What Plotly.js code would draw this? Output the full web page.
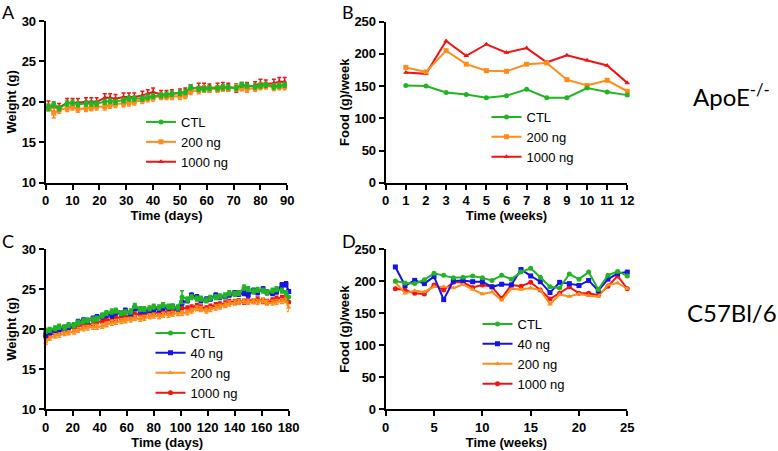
<!DOCTYPE html>
<html>
<head>
<meta charset="utf-8">
<script src="https://cdn.plot.ly/plotly-3.0.1.min.js"></script>
<style>html,body{margin:0;padding:0;background:#fff;}#chart{width:778px;height:451px;}</style>
</head>
<body>
<div id="chart"></div>
<script>
// ---------- Panel A: ApoE-/- body weight (g) vs time (days) ----------
const daysA = [1,3,5,8,10,12,15,17,19,22,24,26,29,31,33,36,38,40,43,45,47,50,52,54,57,59,61,64,66,68,71,73,75,78,80,82,85,87,89];
const wA_ctl  = [19.3,19.7,19.2,19.8,19.9,19.7,19.8,19.8,19.8,20.0,20.1,20.0,20.2,20.4,20.4,20.4,20.6,20.7,20.8,20.9,21.0,21.1,21.2,21.8,21.6,21.6,21.7,21.7,21.8,21.8,21.7,22.1,22.0,21.9,22.0,22.1,21.9,22.0,22.1];
const wA_200  = [19.3,18.6,19.0,19.2,19.4,19.1,19.2,19.3,19.4,19.4,19.6,19.7,19.8,19.9,20.0,20.2,20.4,20.5,20.7,20.7,20.7,20.7,20.8,21.3,21.4,21.6,21.6,21.6,21.7,21.7,21.7,21.8,21.6,21.7,21.9,22.0,21.8,21.9,21.9];
const wA_1000 = [19.6,19.3,19.3,19.9,19.9,19.9,20.0,20.0,20.0,20.5,20.5,20.4,20.6,20.6,20.6,20.8,21.0,21.2,20.9,20.9,21.0,21.1,21.2,21.6,21.8,21.8,21.7,21.8,21.9,21.8,21.7,21.9,21.9,22.0,22.3,22.2,22.3,22.5,22.5];
const eA_ctl  = [0.4,0.3,0.3,0.3,0.3,0.3,0.3,0.3,0.3,0.3,0.3,0.3,0.3,0.3,0.3,0.3,0.3,0.3,0.3,0.3,0.3,0.3,0.3,0.3,0.3,0.3,0.3,0.3,0.3,0.3,0.3,0.3,0.3,0.3,0.3,0.3,0.3,0.3,0.3];
const eA_200  = [0.4,0.6,0.4,0.4,0.4,0.4,0.4,0.4,0.4,0.4,0.4,0.4,0.4,0.4,0.4,0.4,0.4,0.4,0.4,0.4,0.4,0.4,0.4,0.4,0.4,0.4,0.4,0.4,0.4,0.4,0.4,0.4,0.4,0.4,0.4,0.4,0.4,0.4,0.4];
const eA_1000 = [0.5,0.5,0.5,0.5,0.5,0.5,0.5,0.5,0.5,0.5,0.5,0.5,0.5,0.5,0.5,0.5,0.5,0.5,0.5,0.5,0.5,0.5,0.5,0.5,0.5,0.5,0.5,0.5,0.5,0.5,0.5,0.5,0.5,0.5,0.5,0.5,0.5,0.5,0.5];

// ---------- Panel B: ApoE-/- food (g)/week ----------
const weeksB = [1,2,3,4,5,6,7,8,9,10,11,12];
const fB_ctl  = [151,150,140,137,132,135,145,132,132,147,141,136];
const fB_200  = [179,172,205,184,174,173,184,186,160,151,159,142];
const fB_1000 = [171,169,220,197,215,202,209,187,198,190,182,155];

// ---------- Panel C: C57Bl/6 body weight (g) vs time (days) ----------
const daysC = [0,3,7,10,14,17,21,24,28,31,35,38,42,45,49,52,56,59,63,66,70,73,77,80,84,87,91,94,98,101,105,108,112,115,119,122,126,129,133,136,140,143,147,150,154,157,161,164,168,171,175,178,180];
const wC_ctl  = [19.8,19.9,20.1,20.3,20.2,20.5,20.5,20.8,21.0,21.1,21.2,21.3,21.7,22.0,22.2,22.3,22.0,22.1,22.2,22.9,22.5,22.5,22.6,22.8,22.7,23.0,22.8,22.8,22.7,24.0,23.7,24.0,23.8,23.8,23.6,23.9,24.0,24.1,24.2,24.5,24.4,24.5,25.2,25.0,24.7,24.9,24.8,24.6,24.8,25.0,24.8,24.5,24.0];
const wC_40   = [19.3,19.6,19.9,20.0,20.2,20.3,20.5,20.9,21.1,21.0,21.3,21.5,21.6,21.8,21.7,22.1,22.0,22.3,22.0,22.6,22.3,22.3,22.4,22.5,22.5,22.7,22.7,22.8,22.6,23.3,23.6,24.2,24.0,23.6,23.7,23.8,24.2,24.0,24.1,24.3,24.5,24.4,24.5,24.3,24.8,24.6,25.0,24.6,24.5,24.7,25.5,25.6,24.7];
const wC_200  = [18.4,18.9,19.2,19.3,19.5,19.6,19.7,19.9,20.1,20.2,20.3,20.3,20.4,20.6,20.8,20.9,21.0,21.1,21.2,21.4,21.3,21.4,21.6,21.7,21.6,21.8,21.8,21.9,22.0,22.0,22.1,22.3,22.6,22.5,22.3,22.5,22.7,22.8,23.0,23.2,23.3,23.4,23.5,23.4,23.5,23.4,23.6,23.3,23.3,23.4,23.5,23.6,22.7];
const wC_1000 = [19.0,19.3,19.6,19.8,19.9,20.1,20.2,20.4,20.5,20.6,20.6,20.9,21.0,21.2,21.1,21.4,21.5,21.6,21.6,21.8,21.9,21.9,22.0,22.1,22.0,22.2,22.1,22.3,22.4,22.6,22.6,22.7,22.9,22.7,22.6,22.8,23.0,23.1,23.2,23.4,23.4,23.5,23.4,23.6,23.5,23.7,23.5,23.4,23.6,23.8,23.9,23.7,23.4];
const eC_ctl  = [0.3,0.3,0.3,0.3,0.3,0.3,0.3,0.3,0.3,0.3,0.3,0.3,0.3,0.3,0.3,0.3,0.3,0.3,0.3,0.3,0.3,0.3,0.3,0.3,0.3,0.3,0.3,0.3,0.3,0.8,0.3,0.3,0.3,0.3,0.3,0.3,0.3,0.3,0.3,0.3,0.3,0.3,0.3,0.3,0.3,0.3,0.3,0.3,0.3,0.3,0.3,0.3,0.4];
const eC_40   = [0.3,0.3,0.3,0.3,0.3,0.3,0.3,0.3,0.3,0.3,0.3,0.3,0.3,0.3,0.3,0.3,0.3,0.3,0.3,0.3,0.3,0.3,0.3,0.3,0.3,0.3,0.3,0.3,0.3,0.3,0.3,0.3,0.3,0.3,0.3,0.3,0.3,0.3,0.3,0.3,0.3,0.3,0.3,0.3,0.3,0.3,0.3,0.3,0.3,0.3,0.3,0.3,0.4];
const eC_200  = [0.3,0.3,0.3,0.3,0.3,0.3,0.3,0.3,0.3,0.3,0.3,0.3,0.3,0.3,0.3,0.3,0.3,0.3,0.3,0.3,0.3,0.3,0.3,0.3,0.3,0.3,0.3,0.3,0.3,0.3,0.3,0.3,0.3,0.3,0.3,0.3,0.3,0.3,0.3,0.3,0.3,0.3,0.3,0.3,0.3,0.3,0.3,0.3,0.3,0.3,0.3,0.3,0.5];
const eC_1000 = [0.3,0.3,0.3,0.3,0.3,0.3,0.3,0.3,0.3,0.3,0.3,0.3,0.3,0.3,0.3,0.3,0.3,0.3,0.3,0.3,0.3,0.3,0.3,0.3,0.3,0.3,0.3,0.3,0.3,0.3,0.3,0.3,0.3,0.3,0.3,0.3,0.3,0.3,0.3,0.3,0.3,0.3,0.3,0.3,0.3,0.3,0.3,0.3,0.3,0.3,0.3,0.3,0.4];

// ---------- Panel D: C57Bl/6 food (g)/week ----------
const weeksD = [1,2,3,4,5,6,7,8,9,10,11,12,13,14,15,16,17,18,19,20,21,22,23,24,25];
const fD_ctl  = [200,197,196,202,212,209,205,206,208,205,201,209,203,214,220,206,191,189,211,203,214,187,209,215,208];
const fD_40   = [222,193,201,196,207,171,200,201,199,199,191,195,194,218,208,199,182,198,196,193,201,185,203,212,214];
const fD_200  = [198,181,185,183,191,191,189,195,187,180,183,170,188,187,189,186,164,179,176,180,177,176,194,197,188];
const fD_1000 = [188,186,181,180,194,186,198,198,190,194,191,173,194,192,198,186,172,181,191,181,181,178,192,208,188];

// labels
const panelLetters = ['A','B','C','D'];
const strainLabels = ['ApoE<sup>-/-</sup>','C57Bl/6'];

const C_GREEN = 'rgb(34,180,34)';
const C_ORANGE = 'rgb(255,140,26)';
const C_RED = 'rgb(240,20,20)';
const C_BLUE = 'rgb(20,20,230)';

function tr(x, y, err, name, color, symbol, xa, ya, leg, rank) {
  const t = {
    type: 'scatter', mode: 'lines+markers', x: x, y: y, name: name,
    xaxis: xa, yaxis: ya, legend: leg, legendgroup: leg + name, legendrank: rank,
    line: {color: color, width: 2},
    marker: {color: color, symbol: symbol, size: 5},
    cliponaxis: false
  };
  if (err) t.error_y = {type: 'data', array: err, visible: true, color: color, thickness: 1.5, width: 2};
  return t;
}

const data = [
  tr(daysA, wA_1000, eA_1000, '1000 ng', C_RED, 'triangle-up', 'x', 'y', 'legend', 3),
  tr(daysA, wA_200, eA_200, '200 ng', C_ORANGE, 'square', 'x', 'y', 'legend', 2),
  tr(daysA, wA_ctl, eA_ctl, 'CTL', C_GREEN, 'circle', 'x', 'y', 'legend', 1),
  tr(weeksB, fB_1000, null, '1000 ng', C_RED, 'triangle-up', 'x2', 'y2', 'legend2', 3),
  tr(weeksB, fB_200, null, '200 ng', C_ORANGE, 'square', 'x2', 'y2', 'legend2', 2),
  tr(weeksB, fB_ctl, null, 'CTL', C_GREEN, 'circle', 'x2', 'y2', 'legend2', 1),
  tr(daysC, wC_1000, eC_1000, '1000 ng', C_RED, 'circle', 'x3', 'y3', 'legend3', 4),
  tr(daysC, wC_200, eC_200, '200 ng', C_ORANGE, 'triangle-up', 'x3', 'y3', 'legend3', 3),
  tr(daysC, wC_40, eC_40, '40 ng', C_BLUE, 'square', 'x3', 'y3', 'legend3', 2),
  tr(daysC, wC_ctl, eC_ctl, 'CTL', C_GREEN, 'circle', 'x3', 'y3', 'legend3', 1),
  tr(weeksD, fD_1000, null, '1000 ng', C_RED, 'circle', 'x4', 'y4', 'legend4', 4),
  tr(weeksD, fD_200, null, '200 ng', C_ORANGE, 'triangle-up', 'x4', 'y4', 'legend4', 3),
  tr(weeksD, fD_40, null, '40 ng', C_BLUE, 'square', 'x4', 'y4', 'legend4', 2),
  tr(weeksD, fD_ctl, null, 'CTL', C_GREEN, 'circle', 'x4', 'y4', 'legend4', 1)
];

const W = 778, H = 451;
const FONT = 'Liberation Sans, Arial, sans-serif';
const tickFont = {family: FONT, size: 13, color: '#000', weight: 'bold'};
const titleFont = {family: FONT, size: 13, color: '#000', weight: 'bold'};

function ax(domain, range, dtick, anchor, title, standoff) {
  return {
    domain: domain, range: range, dtick: dtick, tick0: 0, anchor: anchor,
    showline: true, linecolor: '#000', linewidth: 2,
    ticks: 'outside', ticklen: 5, tickwidth: 2, tickcolor: '#000',
    showgrid: false, zeroline: false, fixedrange: true,
    tickfont: tickFont, automargin: false,
    title: {text: title, font: titleFont, standoff: standoff}
  };
}
const px = v => v / W;
const py = v => 1 - v / H;

function leg(left, top) {
  return {
    x: px(left), y: py(top), xanchor: 'left', yanchor: 'top',
    bgcolor: 'rgba(0,0,0,0)', borderwidth: 0,
    font: {family: FONT, size: 13, color: '#000'},
    tracegroupgap: 2, traceorder: 'normal'
  };
}

const annFont = {family: 'Lato, Open Sans, sans-serif', size: 18, color: '#000'};
const bigFont = {family: 'Lato, Open Sans, sans-serif', size: 24, color: '#000'};
function lab(text, x, y, font) {
  return {text: text, x: px(x), y: py(y), xref: 'paper', yref: 'paper', xanchor: 'left', yanchor: 'top', showarrow: false, font: font};
}
const layout = {
  width: W, height: H,
  margin: {l: 0, r: 0, t: 0, b: 0},
  paper_bgcolor: '#fff', plot_bgcolor: 'rgba(0,0,0,0)',
  showlegend: true,
  xaxis:  ax([px(45.7), px(287.3)], [0, 90], 10, 'y', 'Time (days)', 4),
  yaxis:  ax([py(182.7), py(21)], [10, 30], 5, 'x', 'Weight (g)', 2),
  xaxis2: ax([px(385.7), px(627.3)], [0, 12], 1, 'y2', 'Time (weeks)', 4),
  yaxis2: ax([py(182.7), py(21.7)], [0, 250], 50, 'x2', 'Food (g)/week', 2),
  xaxis3: ax([px(45.7), px(288.7)], [0, 180], 20, 'y3', 'Time (days)', 4),
  yaxis3: ax([py(409.3), py(249)], [10, 30], 5, 'x3', 'Weight (g)', 2),
  xaxis4: ax([px(385.7), px(627.3)], [0, 25], 5, 'y4', 'Time (weeks)', 4),
  yaxis4: ax([py(409.3), py(249)], [0, 250], 50, 'x4', 'Food (g)/week', 2),
  legend:  leg(141, 107),
  legend2: leg(486.5, 102),
  legend3: leg(150.5, 318),
  legend4: leg(477.5, 309),
  annotations: [
    lab(panelLetters[0], 0, -1, annFont),
    lab(panelLetters[1], 340, -1, annFont),
    lab(panelLetters[2], 0, 228, annFont),
    lab(panelLetters[3], 340, 228, annFont),
    lab(strainLabels[0], 691, 77, bigFont),
    lab(strainLabels[1], 685, 296, bigFont)
  ]
};

Plotly.newPlot('chart', data, layout, {staticPlot: true, displayModeBar: false});
</script>
</body>
</html>
